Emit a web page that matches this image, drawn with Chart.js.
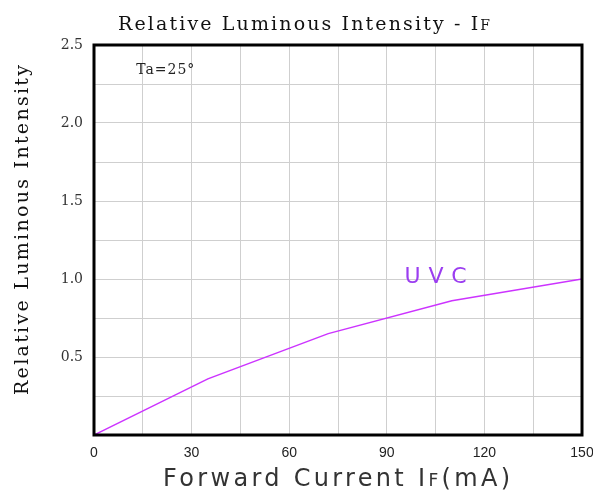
<!DOCTYPE html>
<html>
<head>
<meta charset="utf-8">
<script src="https://cdn.jsdelivr.net/npm/chart.js@4/dist/chart.umd.min.js"></script>
<style>
	html, body { margin: 0; padding: 0; background: #fff; }
	#wrap { width: 593px; height: 490px; }
</style>
</head>
<body>
<div id="wrap"><canvas id="chart0" width="593" height="490"></canvas></div>
<script>
// forward current (mA) / relative intensity
const currents = [0, 35, 72, 110, 150];
const intensity = [0, 0.36, 0.65, 0.86, 1.0];
const xTicks = [0, 30, 60, 90, 120, 150];
const yTicks = [0.5, 1.0, 1.5, 2.0, 2.5];
const seriesLabel = 'UVC';
const seriesLabelAt = [105, 1.03];
const noteText = 'Ta=25°';
const noteAt = [13, 2.35];

// 字間を広げて描く (runs: [text, fontSize])
function spacedRuns(ctx, runs, family, x, y, width) {
	ctx.letterSpacing = '0px';
	let natural = 0, count = 0;
	runs.forEach(r => {
		ctx.font = r[1] + 'px ' + family;
		natural += ctx.measureText(r[0]).width;
		count += r[0].length;
	});
	let sp = (width - natural) / (count - 1);
	ctx.letterSpacing = sp + 'px';
	let cx = x;
	runs.forEach(r => {
		ctx.font = r[1] + 'px ' + family;
		ctx.fillText(r[0], cx, y);
		cx += ctx.measureText(r[0]).width;
	});
	ctx.letterSpacing = '0px';
}

const decor = {
	id: 'decor',
	afterDraw(chart) {
		let ctx = chart.ctx;
		let a = chart.chartArea;
		let sx = chart.scales.x, sy = chart.scales.y;
		ctx.save();
		ctx.textAlign = 'left';
		ctx.textBaseline = 'alphabetic';

		// frame
		ctx.strokeStyle = '#000';
		ctx.lineWidth = 3;
		ctx.strokeRect(a.left, a.top, a.right - a.left, a.bottom - a.top);

		// title
		ctx.fillStyle = '#111';
		spacedRuns(ctx, [['Relative Luminous Intensity - I', 19], ['F', 14]], '"DejaVu Serif"', 118, 30, 372);

		// y title
		ctx.save();
		ctx.translate(28, 395);
		ctx.rotate(-Math.PI / 2);
		spacedRuns(ctx, [['Relative Luminous Intensity', 19]], '"DejaVu Serif"', 0, 0, 330);
		ctx.restore();

		// x title
		ctx.fillStyle = '#333';
		spacedRuns(ctx, [['Forward Current I', 24], ['F', 17], ['(mA)', 24]], '"DejaVu Sans"', 163, 486, 347);

		// note
		ctx.fillStyle = '#222';
		spacedRuns(ctx, [[noteText, 14]], '"DejaVu Serif"', sx.getPixelForValue(noteAt[0]), sy.getPixelForValue(noteAt[1]) + 6, 58);

		// series label
		ctx.fillStyle = '#9b3df0';
		spacedRuns(ctx, [[seriesLabel, 22]], '"DejaVu Sans"', sx.getPixelForValue(seriesLabelAt[0]) - 31, sy.getPixelForValue(seriesLabelAt[1]) + 9, 62);
		ctx.restore();
	}
};

let config = {
	type: 'line',
	data: {
		datasets: [{
			label: seriesLabel,
			data: currents.map((c, i) => ({ x: c, y: intensity[i] })),
			borderColor: '#cc33ff',
			borderWidth: 1.5,
			pointRadius: 0,
			fill: false,
			tension: 0
		}]
	},
	options: {
		responsive: false,
		animation: false,
		layout: { autoPadding: false, padding: { top: 45, right: 11, left: 0, bottom: 0 } },
		plugins: {
			legend: { display: false },
			title: { display: false },
			tooltip: { enabled: false }
		},
		scales: {
			x: {
				type: 'linear',
				min: 0,
				max: 150,
				ticks: {
					stepSize: 15,
					padding: 10,
					color: '#222',
					font: { family: '"Liberation Sans"', size: 14 },
					callback: v => xTicks.includes(v) ? String(v) : ''
				},
				grid: { color: '#cfcfcf', lineWidth: 1, drawTicks: false },
				border: { display: false },
				afterFit: s => { s.height = 55; s.paddingLeft = 0; s.paddingRight = 0; }
			},
			y: {
				type: 'linear',
				min: 0,
				max: 2.5,
				ticks: {
					stepSize: 0.25,
					padding: 11,
					color: '#333',
					font: { family: '"DejaVu Serif"', size: 14 },
					callback: v => yTicks.some(t => Math.abs(t - v) < 1e-6) ? v.toFixed(1) : ''
				},
				grid: { color: '#cfcfcf', lineWidth: 1, drawTicks: false },
				border: { display: false },
				afterFit: s => { s.width = 94; s.paddingTop = 0; s.paddingBottom = 0; }
			}
		}
	},
	plugins: [decor]
};

window.myChart = new Chart(document.getElementById('chart0').getContext('2d'), config);
</script>
</body>
</html>
